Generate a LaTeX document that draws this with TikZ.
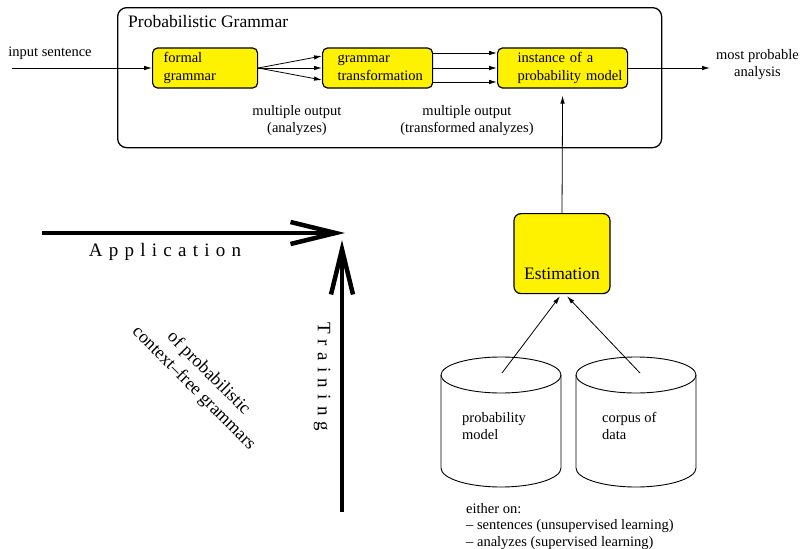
\documentclass[tikz,border=0pt]{standalone}
\usepackage{fontspec}
\setmainfont{Liberation Serif}
\usetikzlibrary{arrows.meta}
\tikzset{
  x=1pt,y=-1pt,
  base/.style={font=\fontsize{14.5}{17}\selectfont, inner sep=0pt},
  ybox/.style={draw, line width=1.2pt, fill=yellow, rounded corners=5pt, font=\fontsize{14.5}{18}\selectfont, align=left},
  thinarrow/.style={line width=0.8pt, -{Latex[length=8pt,width=4.5pt]}},
  bigarrow/.style={line width=4.5pt, -{Straight Barb[length=45pt,width=22pt]}},
  cyl/.style={line width=0.9pt},
  bigtext/.style={font=\fontsize{19}{22}\selectfont\addfontfeature{LetterSpace=33}, inner sep=0pt},
}
\begin{document}
\begin{tikzpicture}
\useasboundingbox (0,0) rectangle (804,549);
% container
\node[draw, line width=1.3pt, rounded corners=9pt, minimum width=544pt, minimum height=140pt, anchor=north west, inner sep=0pt] (pg) at (117,7) {};
\node[anchor=west, font=\fontsize{17.5}{20}\selectfont, inner sep=0pt] (title) at (128,22) {Probabilistic Grammar};
% boxes
\node[ybox, anchor=west, minimum width=105pt, minimum height=40pt, inner xsep=11pt, text width=83pt] (fg) at (152,68) {formal\\grammar};
\node[ybox, anchor=west, minimum width=110pt, minimum height=40pt, inner xsep=15pt, text width=80pt] (tr) at (322,68) {grammar\\\mbox{transformation}};
\node[ybox, anchor=west, minimum width=130pt, minimum height=40pt, inner xsep=20pt, text width=90pt] (inst) at (497,68) {instance of a\\\mbox{probability model}};
% input / output
\coordinate (in) at (12,68);
\node[base] (inlab) at (50,53) {input sentence};
\draw[thinarrow] (in) -- (fg.west);
\node[base, align=center, anchor=west] (out) at (716,65) {most probable\\analysis};
\coordinate (oe) at (710,68);
\draw[thinarrow] (inst.east) -- (oe);
% fan arrows
\draw[thinarrow] (fg.east) -- ([yshift=12pt]tr.west);
\draw[thinarrow] (fg.east) -- (tr.west);
\draw[thinarrow] (fg.east) -- ([yshift=-12pt]tr.west);
\draw[thinarrow] ([yshift=15pt]tr.east) -- ([yshift=15pt]inst.west);
\draw[thinarrow] (tr.east) -- (inst.west);
\draw[thinarrow] ([yshift=-14pt]tr.east) -- ([yshift=-14pt]inst.west);
% labels
\node[base, align=center] (mo1) at (297,121) {multiple output\\(analyzes)};
\node[base, align=center] (mo2) at (467,121) {multiple output\\(transformed analyzes)};
% estimation
\node[ybox, minimum width=96pt, text height=56pt, text depth=4pt, inner ysep=10pt, rounded corners=7pt, font=\fontsize{17.5}{20}\selectfont, align=center, anchor=north] (est) at (562,213) {Estimation};
\draw[thinarrow] (est.north) -- ([yshift=-7pt]inst.south);
% cylinders
\draw[cyl] (441,375) -- (441,468) arc[start angle=180,end angle=360,x radius=60pt,y radius=19pt] -- (561,375);
\draw[cyl] (501,375) ellipse [x radius=60pt, y radius=18pt];
\draw[cyl] (576,375) -- (576,468) arc[start angle=180,end angle=360,x radius=60pt,y radius=19pt] -- (696,375);
\draw[cyl] (636,375) ellipse [x radius=60pt, y radius=18pt];
\node[base, align=left, anchor=west] (pm) at (462,426) {probability\\model};
\node[base, align=left, anchor=west] (cd) at (602,426) {corpus of\\data};
\coordinate (c1) at (502,373);
\coordinate (c2) at (640,373);
\draw[thinarrow] (c1) -- ([xshift=-2pt,yshift=-2pt]est.south);
\draw[thinarrow] (c2) -- ([xshift=5pt,yshift=-2pt]est.south);
\node[base, align=left, anchor=north west, font=\fontsize{14.5}{16.5}\selectfont] (either) at (466,503) {either on:\\-- sentences (unsupervised learning)\\-- analyzes (supervised learning)};
% big arrows
\coordinate (a0) at (42,233);
\coordinate (a1) at (345,233);
\draw[bigarrow] (a0) -- (a1);
\node[bigtext] (app) at (165,252) {Application};
\coordinate (t0) at (342,512);
\coordinate (t1) at (342,240);
\draw[bigarrow] (t0) -- (t1);
\node[bigtext, rotate=-90] (train) at (322,377) {Training};
\node[rotate=-45, align=center, font=\fontsize{18}{21}\selectfont, inner sep=0pt] (pcfg) at (201,381) {of probabilistic\\context--free grammars};
\end{tikzpicture}
\end{document}
